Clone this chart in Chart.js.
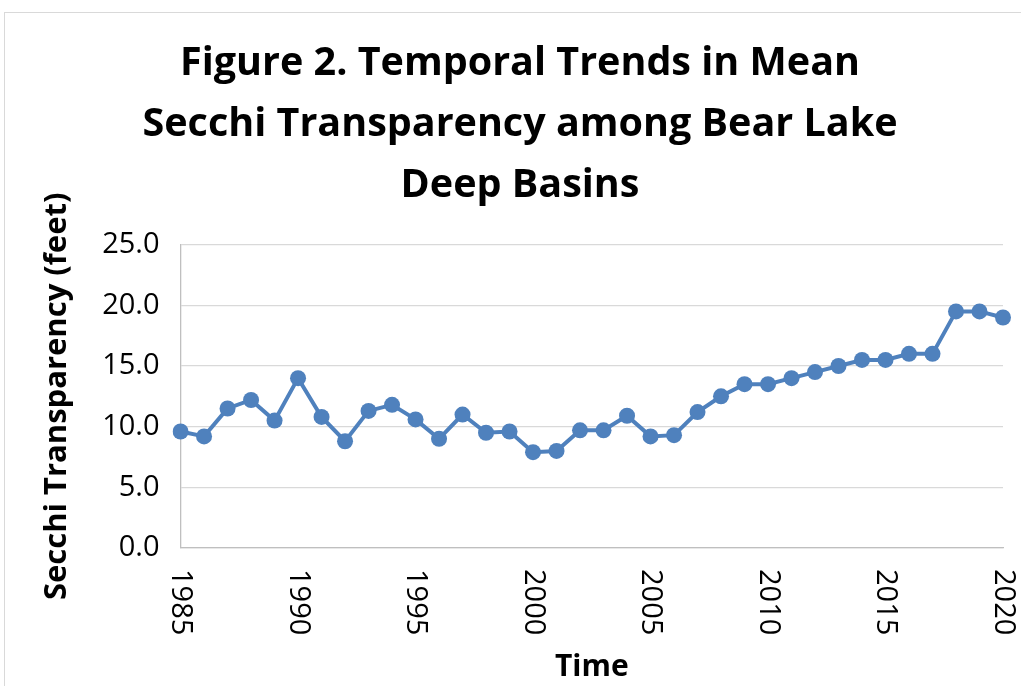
<!DOCTYPE html>
<html>
<head>
<meta charset="utf-8">
<script src="https://cdn.jsdelivr.net/npm/chart.js@4.4.1/dist/chart.umd.min.js"></script>
<style>
  body { margin: 0; background: #fff; }
  #wrap { width: 1021px; height: 686px; }
</style>
</head>
<body>
<div id="wrap"><canvas id="secchiChart" width="1021" height="686"></canvas></div>
<script>
const years = ['1985', '1986', '1987', '1988', '1989', '1990', '1991', '1992', '1993', '1994',
  '1995', '1996', '1997', '1998', '1999', '2000', '2001', '2002', '2003', '2004',
  '2005', '2006', '2007', '2008', '2009', '2010', '2011', '2012', '2013', '2014',
  '2015', '2016', '2017', '2018', '2019', '2020'];
const secchi = [9.6, 9.2, 11.5, 12.2, 10.5, 14.0, 10.8, 8.8, 11.3, 11.8,
  10.6, 9.0, 11.0, 9.5, 9.6, 7.9, 8.0, 9.7, 9.7, 10.9,
  9.2, 9.3, 11.2, 12.5, 13.5, 13.5, 14.0, 14.5, 15.0, 15.5,
  15.5, 16.0, 16.0, 19.5, 19.5, 19.0];
const yearTicks = ['1985', '1990', '1995', '2000', '2005', '2010', '2015', '2020'];

const fontFamily = "'Open Sans', sans-serif";
Chart.defaults.font.family = fontFamily;
Chart.defaults.color = '#000';

// white page with the thin grey frame round the chart
const frame = {
  id: 'frame',
  beforeDraw(chart) {
    const ctx = chart.ctx;
    ctx.save();
    ctx.fillStyle = '#fff';
    ctx.fillRect(0, 0, chart.width, chart.height);
    ctx.strokeStyle = '#D9D9D9';
    ctx.lineWidth = 1;
    ctx.strokeRect(4.5, 12.5, chart.width + 20, chart.height + 20);
    ctx.restore();
  }
};

// year labels turned clockwise, as in the original
const sideways = {
  id: 'sideways',
  afterDraw(chart) {
    const ctx = chart.ctx;
    const x = chart.scales.x;
    ctx.save();
    ctx.font = '29px ' + fontFamily;
    ctx.fillStyle = '#000';
    ctx.textAlign = 'left';
    ctx.textBaseline = 'middle';
    yearTicks.forEach(y => {
      const px = x.getPixelForValue(years.indexOf(y));
      ctx.save();
      ctx.translate(px, chart.chartArea.bottom + 21);
      ctx.rotate(Math.PI / 2);
      ctx.fillText(y, 0, 0);
      ctx.restore();
    });
    ctx.restore();
  }
};

new Chart(document.getElementById('secchiChart'), {
  type: 'line',
  data: {
    labels: years,
    datasets: [{
      label: 'Secchi Transparency',
      data: secchi,
      borderColor: '#4F81BD',
      backgroundColor: '#4F81BD',
      borderWidth: 4,
      pointRadius: 8,
      pointBorderWidth: 0,
      pointBackgroundColor: '#4F81BD',
      tension: 0
    }]
  },
  options: {
    responsive: false,
    animation: false,
    layout: { padding: { left: 37, right: 18, top: 0, bottom: 0 } },
    plugins: {
      legend: { display: false },
      tooltip: { enabled: false },
      title: {
        display: true,
        text: ['Figure 2. Temporal Trends in Mean', 'Secchi Transparency among Bear Lake', 'Deep Basins'],
        font: { size: 39.5, weight: 'bold', lineHeight: 1.55 },
        color: '#000',
        padding: { top: 33, bottom: 28 }
      }
    },
    scales: {
      x: {
        grid: { display: false },
        border: { display: true, color: '#BFBFBF', width: 1.3 },
        ticks: { display: false },
        title: {
          display: true,
          text: 'Time',
          font: { size: 30, weight: 'bold' },
          padding: { top: 93, bottom: 1 }
        }
      },
      y: {
        min: 0,
        max: 25,
        grid: { color: '#D9D9D9', lineWidth: 1.3, drawTicks: false },
        border: { display: true, color: '#BFBFBF', width: 1.3 },
        ticks: {
          stepSize: 5,
          padding: 21,
          font: { size: 29 },
          color: '#000',
          callback: v => v.toFixed(1)
        },
        title: {
          display: true,
          text: 'Secchi Transparency (feet)',
          font: { size: 31, weight: 'bold' },
          padding: { top: 2, bottom: 5 }
        }
      }
    }
  },
  plugins: [frame, sideways]
});
</script>
</body>
</html>
